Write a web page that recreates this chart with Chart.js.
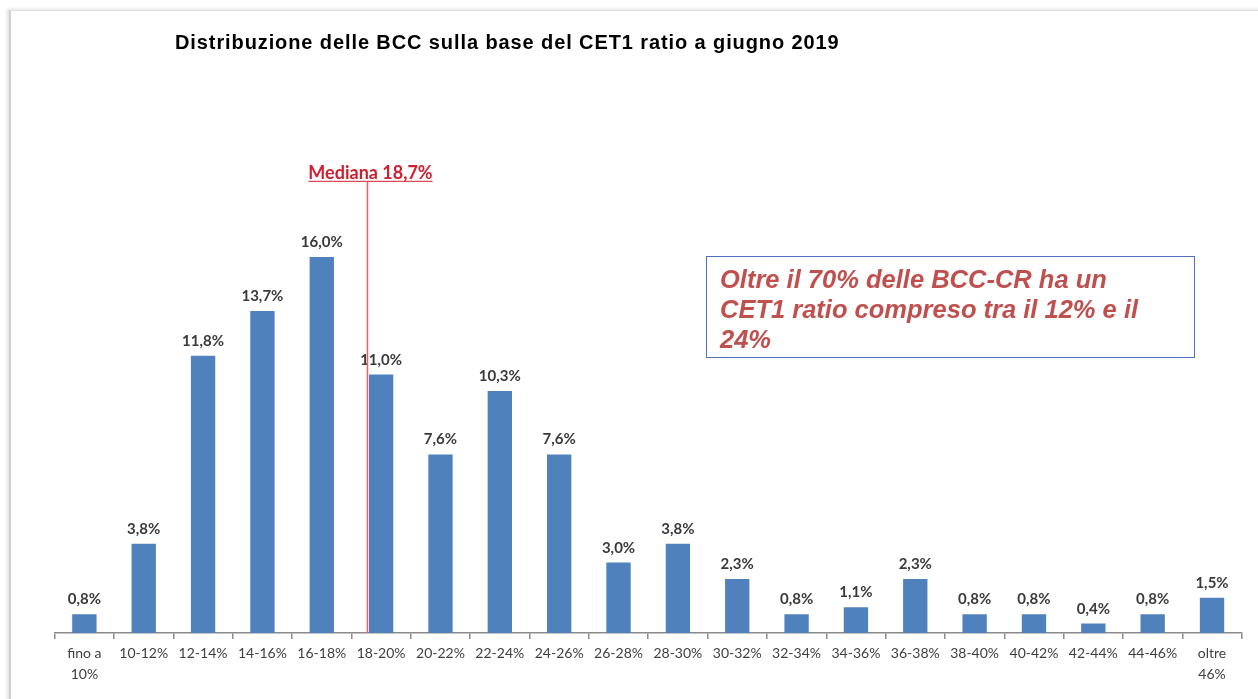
<!DOCTYPE html>
<html lang="it">
<head>
<meta charset="utf-8">
<title>Distribuzione delle BCC sulla base del CET1 ratio</title>
<script src="https://cdn.jsdelivr.net/npm/chart.js@4.4.1/dist/chart.umd.min.js"></script>
<style>
  html, body { margin: 0; padding: 0; background: #fff; }
  #wrap { position: relative; width: 1258px; height: 699px; overflow: hidden; }
  #frame {
    position: absolute; left: 9px; top: 10px; width: 1400px; height: 800px;
    border-left: 2px solid #cfcfcf; border-top: 1px solid #e2e2e2;
    box-shadow: -2px -1px 3px rgba(0,0,0,0.12);
  }
  #title {
    position: absolute; left: 175px; top: 31px;
    font: bold 20px "Liberation Sans", Arial, sans-serif; color: #000;
    letter-spacing: 0.9px; white-space: nowrap;
  }
  #note {
    position: absolute; left: 706px; top: 256px; width: 489px; height: 102px;
    border: 1.5px solid #4f72c2; box-sizing: border-box; padding: 7px 0 0 13px;
    font: italic bold 25.5px/30px "Liberation Sans", Arial, sans-serif; color: #c0504d;
  }
  canvas { position: absolute; left: 0; top: 0; }
</style>
</head>
<body>
<div id="wrap">
  <div id="frame"></div>
  <canvas id="chart" width="1258" height="699"></canvas>
  <div id="title">Distribuzione delle BCC sulla base del CET1 ratio a giugno 2019</div>
  <div id="note">Oltre il 70% delle BCC-CR ha un<br>CET1 ratio compreso tra il 12% e il<br>24%</div>
</div>
<script>
const categorie = [
  ["fino a", "10%"], "10-12%", "12-14%", "14-16%", "16-18%", "18-20%", "20-22%",
  "22-24%", "24-26%", "26-28%", "28-30%", "30-32%", "32-34%", "34-36%",
  "36-38%", "38-40%", "40-42%", "42-44%", "44-46%", ["oltre", "46%"]
];
const quote = [0.8, 3.8, 11.8, 13.7, 16.0, 11.0, 7.6, 10.3, 7.6, 3.0, 3.8, 2.3, 0.8, 1.1, 2.3, 0.8, 0.8, 0.4, 0.8, 1.5];
const mediana = { testo: "Mediana 18,7%", posizione: 4.77, cima: 19.2 };

function formatPerc(v) {
  return v.toFixed(1).replace(".", ",") + "%";
}

// etichette sopra le barre
const etichettePlugin = {
  id: "etichette",
  afterDatasetsDraw(chart) {
    const ctx = chart.ctx;
    const meta = chart.getDatasetMeta(0);
    ctx.save();
    ctx.font = "bold 15px Lato, sans-serif";
    ctx.fillStyle = "#3a3a3a";
    ctx.textAlign = "center";
    ctx.textBaseline = "alphabetic";
    meta.data.forEach((bar, i) => {
      ctx.fillText(formatPerc(quote[i]), bar.x, bar.y - 10);
    });
    ctx.restore();
  }
};

// linea della mediana
const medianaPlugin = {
  id: "mediana",
  afterDatasetsDraw(chart) {
    const { ctx, scales } = chart;
    const x = scales.x.getPixelForValue(mediana.posizione);
    const yTop = scales.y.getPixelForValue(mediana.cima);
    const yBottom = scales.y.getPixelForValue(0);
    ctx.save();
    ctx.strokeStyle = "#ff5a5a";
    ctx.lineWidth = 1.5;
    ctx.beginPath();
    ctx.moveTo(x, yTop);
    ctx.lineTo(x, yBottom);
    ctx.stroke();

    ctx.font = "bold 18px Lato, sans-serif";
    ctx.fillStyle = "#d01f2e";
    ctx.textAlign = "center";
    ctx.textBaseline = "alphabetic";
    const tx = x + 3;
    const ty = yTop - 3;
    ctx.fillText(mediana.testo, tx, ty);
    const w = ctx.measureText(mediana.testo).width;
    ctx.strokeStyle = "#d01f2e";
    ctx.lineWidth = 1;
    ctx.beginPath();
    ctx.moveTo(tx - w / 2, ty + 2.5);
    ctx.lineTo(tx + w / 2, ty + 2.5);
    ctx.stroke();
    ctx.restore();
  }
};

new Chart(document.getElementById("chart"), {
  type: "bar",
  data: {
    labels: categorie,
    datasets: [{
      label: "BCC",
      data: quote,
      backgroundColor: "#4f81bd",
      borderWidth: 0,
      barPercentage: 0.41,
      categoryPercentage: 1
    }]
  },
  options: {
    responsive: false,
    animation: false,
    layout: { padding: { left: 54.7, right: 16.3, top: 163, bottom: 0 } },
    plugins: {
      legend: { display: false },
      tooltip: { enabled: false }
    },
    scales: {
      x: {
        afterFit: (scale) => { scale.height = 66; },
        border: { display: true, color: "#8a8a8a", width: 1.5 },
        grid: {
          offset: true,
          drawOnChartArea: false,
          drawTicks: true,
          tickLength: 6,
          color: "#8a8a8a",
          lineWidth: 1.5
        },
        ticks: {
          color: "#404040",
          padding: 4,
          maxRotation: 0,
          autoSkip: false,
          font: { family: "Lato, sans-serif", size: 14, lineHeight: 1.5 }
        }
      },
      y: {
        display: false,
        min: 0,
        max: 20
      }
    }
  },
  plugins: [etichettePlugin, medianaPlugin]
});
</script>
</body>
</html>
